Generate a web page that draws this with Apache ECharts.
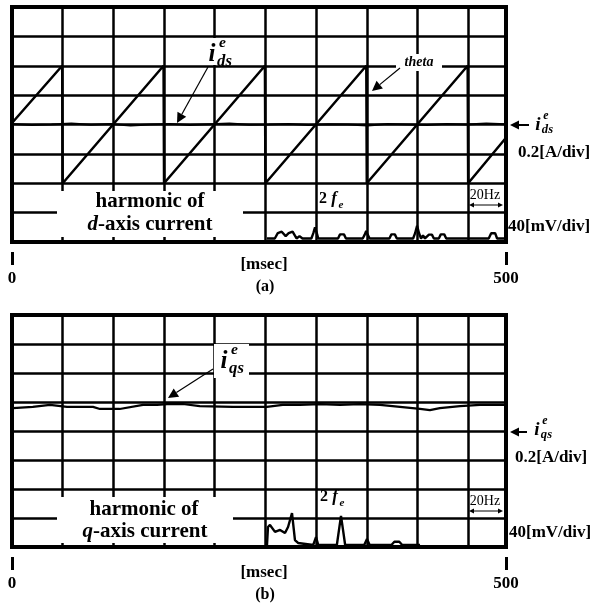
<!DOCTYPE html>
<html>
<head>
<meta charset="utf-8">
<script src="https://cdn.jsdelivr.net/npm/echarts@6/dist/echarts.min.js"></script>
<style>
  html, body { margin: 0; padding: 0; background: #fff; }
  #chart { width: 592px; height: 606px; }
</style>
</head>
<body>
<div id="chart"></div>
<script>
// time axis in msec, amplitudes in scope divisions (centre line = 0)
const gridStep = 51.3;
const axisEnds = ['0', '500'];

// (a) theta sawtooth
const thetaT = [0, 50.8, 51.3, 153.4, 153.9, 256.0, 256.5, 358.6, 359.1, 461.2, 461.7, 500];
const thetaV = [0.05, 2.0, -2.0, 2.0, -2.0, 2.0, -2.0, 2.0, -2.0, 2.0, -2.0, -0.45];

// (a) i_ds^e, flat near zero
const idsT = [0, 20, 40, 60, 80, 100, 120, 140, 160, 180, 200, 220, 240, 260, 280, 300, 320, 340, 360, 380, 400, 420, 440, 460, 480, 500];
const idsV = [0.02, -0.02, 0.0, 0.03, -0.01, 0.02, -0.03, 0.0, 0.02, -0.02, 0.01, 0.03, -0.01, 0.0, 0.02, -0.02, 0.01, 0.0, -0.03, 0.02, 0.0, -0.02, 0.02, 0.0, 0.03, 0.01];

// (a) harmonic of d-axis current
const harmD = [
  [258, -3.88], [266, -3.88], [269, -3.7], [273, -3.65], [277, -3.8], [280, -3.7], [284, -3.65], [288, -3.88],
  [291, -3.8], [294, -3.88], [303, -3.88], [305, -3.7], [306.7, -3.5], [308.5, -3.7], [310, -3.88],
  [330, -3.88], [332, -3.74], [336, -3.74], [338, -3.88], [355, -3.88], [357, -3.75], [358.5, -3.62], [360, -3.75], [362, -3.88],
  [382, -3.88], [384, -3.74], [387.5, -3.74], [389.5, -3.88], [406, -3.88], [408, -3.7], [410, -3.45], [412, -3.7], [414, -3.88],
  [416, -3.78], [418, -3.88], [420, -3.88], [422, -3.75], [425, -3.75], [427, -3.88], [432, -3.88], [434, -3.74], [437.5, -3.74], [439.5, -3.88],
  [482.5, -3.88], [485, -3.7], [489, -3.7], [491, -3.88], [500, -3.88]
];

// (b) i_qs^e
const iqsT = [1, 21, 38.5, 55.7, 82, 89, 109, 132.6, 146.8, 157, 173, 190, 223.7, 258, 274, 291.5, 311.7, 332, 352, 372.5, 392.7, 413, 423, 433, 453.4, 473.7, 500];
const iqsV = [0.79, 0.83, 0.90, 0.83, 0.83, 0.76, 0.76, 0.90, 0.90, 0.93, 0.93, 0.86, 0.83, 0.83, 0.90, 0.90, 0.93, 0.90, 0.93, 0.90, 0.83, 0.76, 0.72, 0.79, 0.86, 0.90, 0.90];

// (b) harmonic of q-axis current
const harmQ = [
  [258.1, -3.93], [259.1, -3.31], [261.1, -3.24], [266.2, -3.48], [271.3, -3.41], [276.3, -3.52], [279.4, -3.31],
  [283.4, -2.83], [286.4, -3.76], [289.5, -3.86], [304.9, -3.93], [307.7, -3.66], [310, -3.93],
  [328.8, -3.93], [331, -3.4], [333, -2.93], [335, -3.4], [337.2, -3.93], [356.5, -3.93], [359.3, -3.72], [362, -3.93],
  [384, -3.93], [387, -3.82], [392, -3.82], [395, -3.93], [413, -3.93]
];

const FONT = '"Liberation Serif", "Times New Roman", serif';
const zip = (a, b) => a.map((v, i) => [v, b[i]]);

function txt(x, y, s, size, extra) {
  return {
    type: 'text', x: x, y: y, z: 20,
    style: Object.assign({
      text: s, fontSize: size, fontWeight: 'bold', fontFamily: FONT, fill: '#000',
      textAlign: 'center', align: 'center', textVerticalAlign: 'middle', verticalAlign: 'middle'
    }, extra || {})
  };
}
const left = { textAlign: 'left', align: 'left' };
function box(x, y, w, h) {
  return { type: 'rect', z: 15, shape: { x: x, y: y, width: w, height: h }, style: { fill: '#fff' } };
}
function arrow(x1, y1, x2, y2, hl, hw, w) {
  const a = Math.atan2(y2 - y1, x2 - x1), c = Math.cos(a), s = Math.sin(a);
  const bx = x2 - hl * c, by = y2 - hl * s;
  return [
    { type: 'line', z: 20, shape: { x1: x1, y1: y1, x2: bx, y2: by }, style: { stroke: '#000', lineWidth: w } },
    { type: 'polygon', z: 20, shape: { points: [[x2, y2], [bx - hw * s, by + hw * c], [bx + hw * s, by - hw * c]] }, style: { fill: '#000' } }
  ];
}
function iSym(x, y, sub, big) {
  // italic i with e superscript and a subscript
  const k = big / 24;
  return [
    txt(x, y, 'i', big, { fontStyle: 'italic' }),
    txt(x + 10 * k, y - 12 * k, 'e', 15 * k, { fontStyle: 'italic' }),
    txt(x + 12 * k, y + 6 * k, sub, 16 * k, { fontStyle: 'italic' })
  ];
}
function twoFe(x, y) {
  return [
    txt(x, y, '2', 16),
    txt(x + 11, y, 'f', 17, { fontStyle: 'italic' }),
    txt(x + 18, y + 6, 'e', 11, { fontStyle: 'italic' })
  ];
}
function hz(x, y) {
  return [txt(x, y, '20Hz', 14, { fontWeight: 'normal' })]
    .concat(arrow(x, y + 10, x - 16, y + 10, 5, 2.5, 1))
    .concat(arrow(x, y + 10, x + 18, y + 10, 5, 2.5, 1));
}

const graphics = [].concat(
  // panel (a)
  box(204, 38, 34, 27), iSym(212, 55, 'ds', 25), arrow(208, 67, 177, 123, 10, 5, 1.2),
  box(396, 54, 46, 17), txt(419, 62, 'theta', 14, { fontStyle: 'italic' }), arrow(400, 68, 372, 91, 10, 5, 1.2),
  arrow(529, 125, 510, 125, 9, 4.5, 2), iSym(538, 125, 'ds', 19),
  txt(518, 153, '0.2[A/div]', 17, left),
  txt(508, 227, '40[mV/div]', 17, left),
  box(57, 191, 186, 46), txt(150, 202, 'harmonic of', 21),
  txt(98, 225, 'd', 21, { fontStyle: 'italic', textAlign: 'right', align: 'right' }),
  txt(98, 225, '-axis current', 21, left),
  twoFe(323, 199), hz(485, 195),
  txt(264, 265, '[msec]', 17), txt(265, 287, '(a)', 16),
  // panel (b)
  box(214, 344, 35, 34), iSym(224, 362, 'qs', 25), arrow(213, 369, 168, 398, 10, 5, 1.2),
  arrow(527, 432, 510, 432, 9, 4.5, 2), iSym(537, 430, 'qs', 19),
  txt(515, 458, '0.2[A/div]', 17, left),
  txt(509, 533, '40[mV/div]', 17, left),
  box(57, 497, 176, 46), txt(144, 510, 'harmonic of', 21),
  txt(93, 532, 'q', 21, { fontStyle: 'italic', textAlign: 'right', align: 'right' }),
  txt(93, 532, '-axis current', 21, left),
  twoFe(324, 497), hz(485, 501),
  txt(264, 573, '[msec]', 17), txt(265, 595, '(b)', 16)
);

const gridLine = { show: true, lineStyle: { color: '#000', width: 2.5 } };
function timeAxis(gi) {
  return [
    { type: 'value', gridIndex: gi, min: 0, max: 500, interval: gridStep,
      axisLine: { show: false }, axisTick: { show: false }, axisLabel: { show: false }, splitLine: gridLine },
    { type: 'value', gridIndex: gi, min: 0, max: 500, interval: 500, position: 'bottom', offset: 10,
      axisLine: { show: false }, splitLine: { show: false },
      axisTick: { show: true, length: 13, lineStyle: { color: '#000', width: 3 } },
      axisLabel: { show: true, margin: 18, color: '#000', fontSize: 17, fontWeight: 'bold', fontFamily: FONT,
        formatter: (v) => (v === 0 ? axisEnds[0] : v === 500 ? axisEnds[1] : '') } }
  ];
}
function divAxis(gi) {
  return { type: 'value', gridIndex: gi, min: -4, max: 4, interval: 1,
    axisLine: { show: false }, axisTick: { show: false }, axisLabel: { show: false }, splitLine: gridLine };
}
function trace(name, xi, yi, data, w) {
  return { name: name, type: 'line', xAxisIndex: xi, yAxisIndex: yi, data: data, showSymbol: false, symbol: 'none',
    animation: false, lineStyle: { color: '#000', width: w }, z: 5 };
}

const chart = echarts.init(document.getElementById('chart'), null, { renderer: 'canvas' });
chart.setOption({
  backgroundColor: '#fff',
  animation: false,
  grid: [
    { left: 12, top: 7, width: 494, height: 235, show: true, borderColor: '#000', borderWidth: 4, containLabel: false, outerBoundsMode: 'none' },
    { left: 12, top: 315, width: 494, height: 232, show: true, borderColor: '#000', borderWidth: 4, containLabel: false, outerBoundsMode: 'none' }
  ],
  xAxis: timeAxis(0).concat(timeAxis(1)),
  yAxis: [divAxis(0), divAxis(1)],
  series: [
    trace('theta', 0, 0, zip(thetaT, thetaV), 2.5),
    trace('ids', 0, 0, zip(idsT, idsV), 2),
    trace('harmonic d', 0, 0, harmD, 2.4),
    trace('iqs', 2, 1, zip(iqsT, iqsV), 2.2),
    trace('harmonic q', 2, 1, harmQ, 2.4)
  ],
  graphic: graphics
});
</script>
</body>
</html>
